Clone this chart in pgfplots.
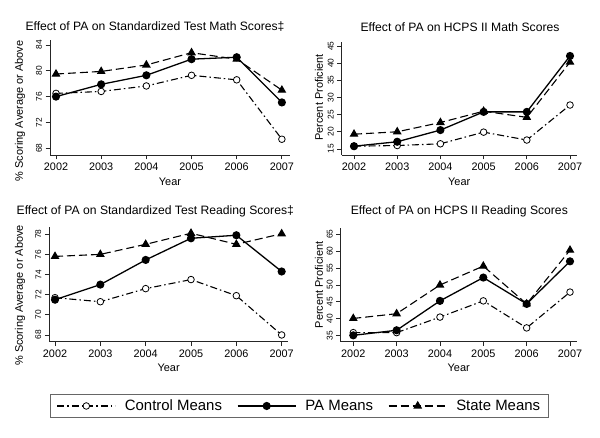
\documentclass[border=0pt]{standalone}
\usepackage{pgfplots}
\pgfplotsset{compat=1.18}
\usepackage{fontspec}
\setmainfont{Liberation Sans}

\pgfplotsset{
  panel/.style={
    scale only axis, clip=false,
    axis x line*=bottom, axis y line*=left,
    axis line style={-, line width=0.8bp, black!85},
    tick align=outside, major tick length=4.5bp,
    every tick/.style={black!85, line width=0.8bp},
    xtick={2002,2003,2004,2005,2006,2007},
    xticklabels={2002,2003,2004,2005,2006,2007},
    /pgf/number format/assume math mode=true,
    x tick label style={font=\fontsize{10.9}{12}\selectfont},
    y tick label style={rotate=90, anchor=south, font=\fontsize{8.4}{10}\selectfont},
    label style={font=\fontsize{11}{13}\selectfont},
    xlabel={Year},
    legend image code/.code={
      \draw[mark repeat=2,mark phase=2,##1] plot coordinates {(0bp,0bp) (29bp,0bp) (58bp,0bp)};},
  },
  ctrl/.style={black, line width=1.1bp, dash pattern=on 7bp off 3bp on 1.5bp off 3bp,
    mark=*, mark size=3.3bp, mark options={solid, fill=white, line width=0.8bp}},
  pa/.style={black, line width=1.3bp, solid, mark=*, mark size=3.4bp, mark options={solid, fill=black}},
  st/.style={black, line width=1.1bp, dash pattern=on 8bp off 4bp,
    mark=triangle*, mark size=4bp, mark options={solid, fill=black}},
}

\begin{document}
\begin{tikzpicture}[x=1bp,y=1bp]
\useasboundingbox (0,0) rectangle (600,438);

% Panel 1: Standardized Test Math
\begin{axis}[panel, at={(50bp,283bp)}, anchor=south west, width=240bp, height=115bp,
  xmin=2001.867, xmax=2007.18, ymin=66.96, ymax=84.77,
  ytick={68,72,76,80,84},
  ylabel={\% Scoring Average or Above},
  ylabel style={at={(axis description cs:-0.125,0.384)}, anchor=center, rotate=0}]
\addplot[ctrl] coordinates {(2002,76.5) (2003,76.8) (2004,77.65) (2005,79.3) (2006,78.6) (2007,69.4)};
\addplot[pa] coordinates {(2002,76.0) (2003,77.9) (2004,79.3) (2005,81.8) (2006,82.1) (2007,75.1)};
\addplot[st] coordinates {(2002,79.5) (2003,79.9) (2004,80.9) (2005,82.8) (2006,81.8) (2007,77.0)};
\end{axis}

% Panel 2: HCPS II Math
\begin{axis}[panel, at={(341.7bp,283bp)}, anchor=south west, width=235bp, height=113bp,
  xmin=2001.715, xmax=2007.155, ymin=13.24, ymax=46.17,
  ytick={15,20,25,30,35,40,45},
  ylabel={Percent Proficient},
  ylabel style={at={(axis description cs:-0.0966,0.509)}, anchor=center}]
\addplot[ctrl] coordinates {(2002,15.8) (2003,16.0) (2004,16.5) (2005,19.9) (2006,17.6) (2007,27.8)};
\addplot[pa] coordinates {(2002,15.8) (2003,17.1) (2004,20.5) (2005,25.8) (2006,25.8) (2007,42.1)};
\addplot[st] coordinates {(2002,19.3) (2003,20.0) (2004,22.7) (2005,26.0) (2006,24.2) (2007,40.3)};
\end{axis}

% Panel 3: Standardized Test Reading
\begin{axis}[panel, at={(49.3bp,96.3bp)}, anchor=south west, width=238.7bp, height=115bp,
  xmin=2001.874, xmax=2007.14, ymin=67.33, ymax=78.75,
  ytick={68,70,72,74,76,78},
  ylabel={\% Scoring Average or Above},
  ylabel style={at={(axis description cs:-0.123,0.402)}, anchor=center},
  legend columns=3,
  legend style={at={(axis description cs:1.048,-0.559)}, anchor=center,
    draw=black!60, line width=0.8bp, font=\fontsize{15}{17}\selectfont,
    inner xsep=6bp, inner ysep=3.5bp,
    /tikz/every odd column/.append style={column sep=7bp},
    /tikz/every even column/.append style={column sep=13bp},
    cells={anchor=west}}]
\addplot[ctrl] coordinates {(2002,71.7) (2003,71.3) (2004,72.6) (2005,73.5) (2006,71.9) (2007,68.0)};
\addlegendentry{Control Means}
\addplot[pa] coordinates {(2002,71.5) (2003,73.0) (2004,75.45) (2005,77.6) (2006,77.9) (2007,74.3)};
\addlegendentry{PA Means}
\addplot[st] coordinates {(2002,75.8) (2003,76.0) (2004,77.0) (2005,78.1) (2006,77.0) (2007,78.05)};
\addlegendentry{State Means}
\end{axis}

% Panel 4: HCPS II Reading
\begin{axis}[panel, at={(340.7bp,96.3bp)}, anchor=south west, width=236bp, height=113.4bp,
  xmin=2001.71, xmax=2007.155, ymin=33.22, ymax=66.78,
  ytick={35,40,45,50,55,60,65},
  ylabel={Percent Proficient},
  ylabel style={at={(axis description cs:-0.092,0.5)}, anchor=center}]
\addplot[ctrl] coordinates {(2002,35.9) (2003,35.9) (2004,40.5) (2005,45.3) (2006,37.3) (2007,47.9)};
\addplot[pa] coordinates {(2002,35.1) (2003,36.6) (2004,45.3) (2005,52.2) (2006,44.4) (2007,57.0)};
\addplot[st] coordinates {(2002,40.1) (2003,41.5) (2004,50.0) (2005,55.6) (2006,44.4) (2007,60.3)};
\end{axis}

% Titles
\node[font=\fontsize{12.2}{14}\selectfont] at (155,411) {Effect of PA on Standardized Test Math Scores‡};
\node[font=\fontsize{12.2}{14}\selectfont] at (460,411) {Effect of PA on HCPS II Math Scores};
\node[font=\fontsize{12.2}{14}\selectfont] at (155.3,227) {Effect of PA on Standardized Test Reading Scores‡};
\node[font=\fontsize{12.2}{14}\selectfont] at (459.3,227) {Effect of PA on HCPS II Reading Scores};
\end{tikzpicture}
\end{document}
